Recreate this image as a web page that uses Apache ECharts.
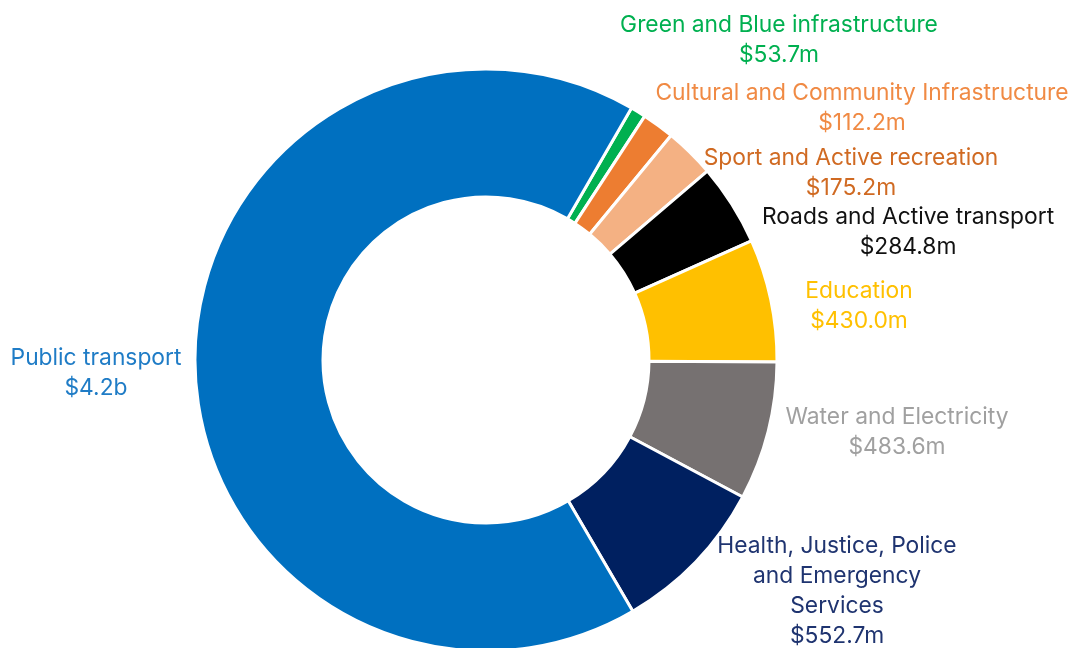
<!DOCTYPE html>
<html>
<head>
<meta charset="utf-8">
<script src="https://cdn.jsdelivr.net/npm/echarts@6/dist/echarts.min.js"></script>
<style>html,body{margin:0;padding:0;background:#fff}#c{width:1072px;height:648px}</style>
</head>
<body>
<div id="c"></div>
<script>
const categories = ["Green and Blue infrastructure", "Cultural and Community Infrastructure", "Sport and Active recreation", "Roads and Active transport", "Education", "Water and Electricity", "Health, Justice, Police\nand Emergency\nServices", "Public transport"];
const values = [53.7, 112.2, 175.2, 284.8, 430.0, 483.6, 552.7, 4200];
const valueLabels = ["$53.7m", "$112.2m", "$175.2m", "$284.8m", "$430.0m", "$483.6m", "$552.7m", "$4.2b"];
const sliceColors = ["#00B050", "#ED7D31", "#F4B183", "#000000", "#FFC000", "#767171", "#002060", "#0070C0"];
const labelColors = ["#00B050", "#F08A44", "#D06A22", "#111111", "#FFC000", "#A0A0A0", "#1F3470", "#1F7CC6"];
const labelPos = [[779, 40], [862, 108], [851, 173], [908, 232], [859, 306], [897, 432], [837, 591], [96, 373]];

const chart = echarts.init(document.getElementById('c'), null, {renderer: 'canvas'});
chart.setOption({
  animation: false,
  series: [{
    type: 'pie',
    center: [486, 360],
    radius: [163, 291],
    startAngle: 60,
    clockwise: true,
    avoidLabelOverlap: false,
    itemStyle: {borderColor: '#fff', borderWidth: 3},
    labelLine: {show: false},
    label: {
      show: true,
      position: 'outside',
      fontFamily: 'Inter, Liberation Sans, Arial, sans-serif',
      fontSize: 22.8,
      lineHeight: 30,
      align: 'center',
      formatter: p => categories[p.dataIndex] + '\n' + valueLabels[p.dataIndex]
    },
    labelLayout: p => ({x: labelPos[p.dataIndex][0], y: labelPos[p.dataIndex][1], align: 'center', verticalAlign: 'middle'}),
    data: categories.map((c, i) => ({
      name: c, value: values[i],
      itemStyle: {color: sliceColors[i]},
      label: {color: labelColors[i]}
    }))
  }]
});
</script>
</body>
</html>
